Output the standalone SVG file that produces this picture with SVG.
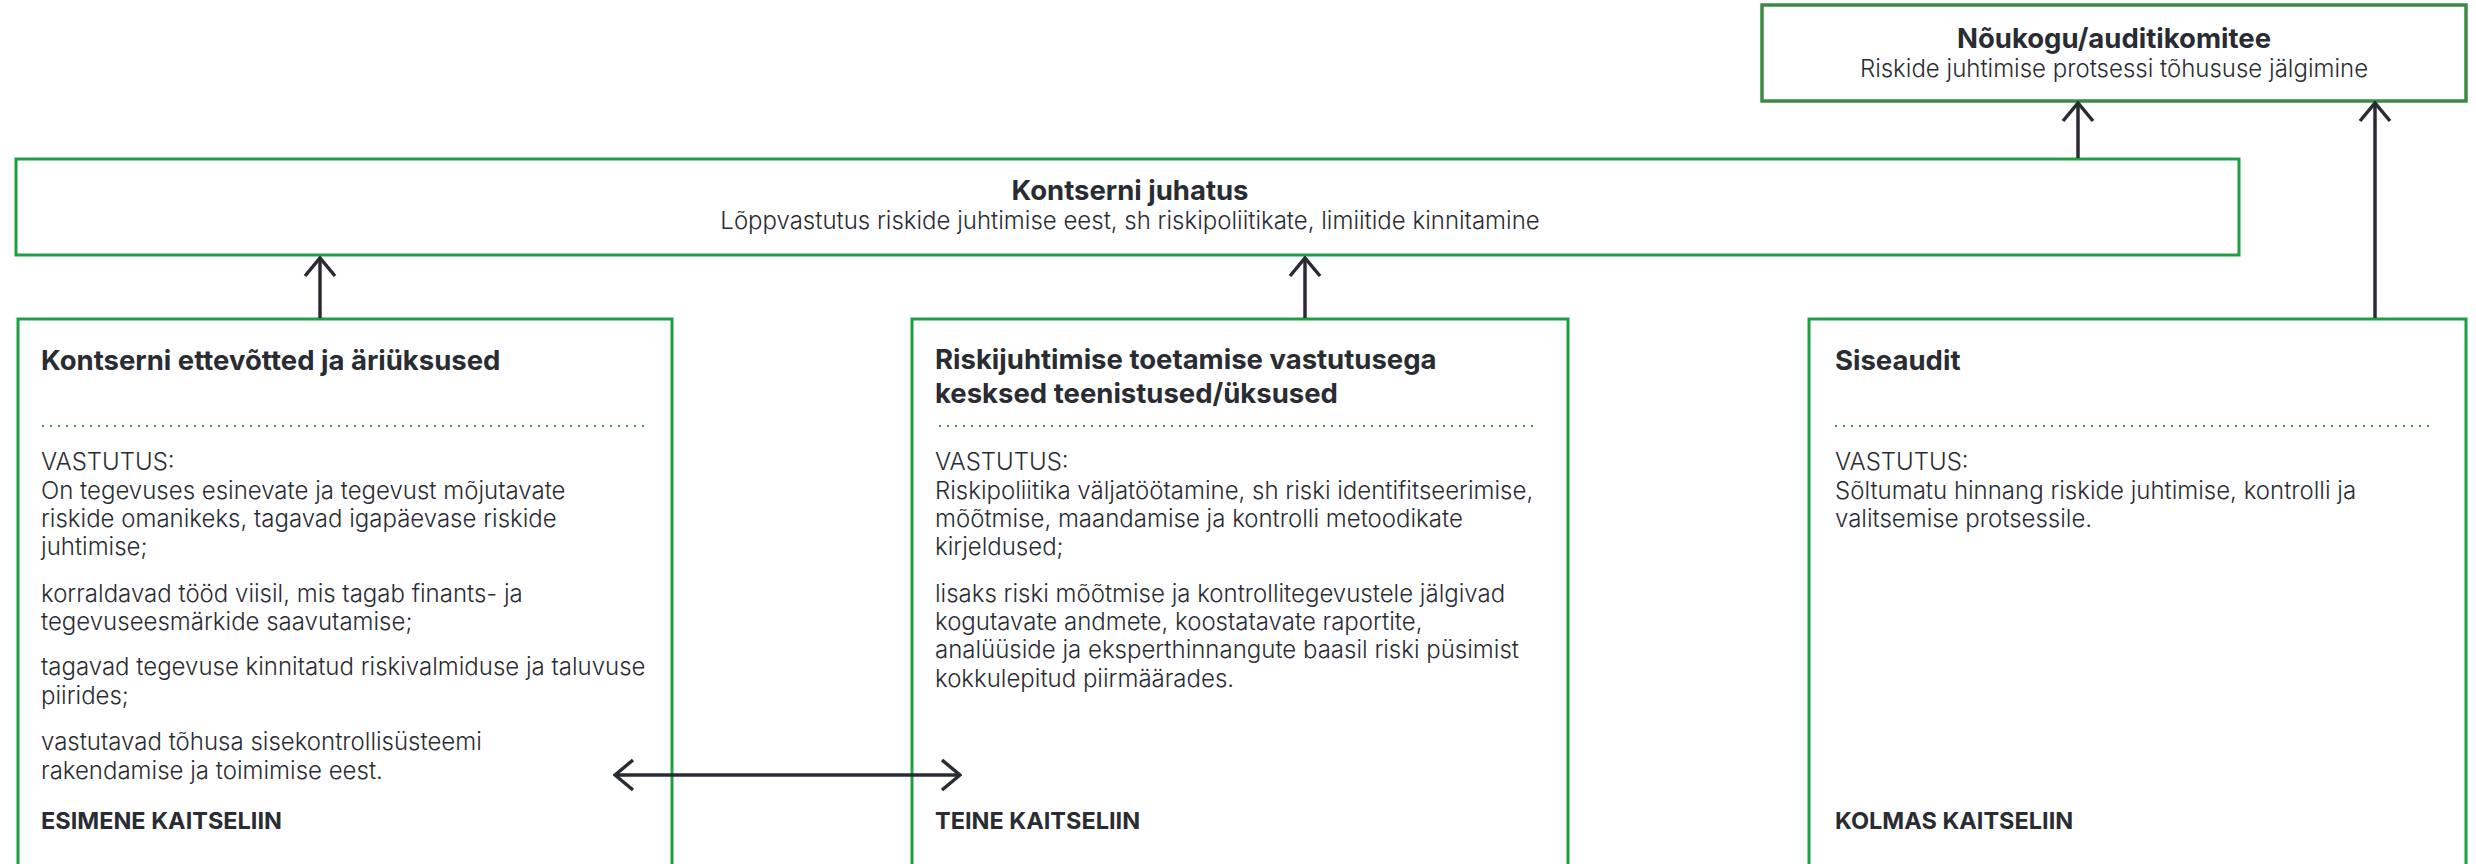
<svg xmlns="http://www.w3.org/2000/svg" width="2476" height="864" viewBox="0 0 2476 864">
<defs>
<style>
.box{fill:#fff;stroke:#1d9f43;stroke-width:3}
.box2{fill:#fff;stroke:#3e8a45;stroke-width:3.5}
.dot{stroke:#2e9b47;stroke-width:2;stroke-dasharray:2 6}
.t{font-family:Inter,"Liberation Sans",sans-serif;fill:#2a2c33}
.h{font-size:27.5px;font-weight:700}
.s{font-size:24px;font-weight:300}
.b{font-size:24px;font-weight:300}
.f{font-size:23.5px;font-weight:700}
.c{stroke:#2a2c33;stroke-width:3.5;fill:none}
</style>
<marker id="ah" viewBox="0 0 22 34" refX="20" refY="17" markerWidth="22" markerHeight="34" markerUnits="userSpaceOnUse" orient="auto-start-reverse">
<path d="M2,2 L20,17 L2,32" fill="none" stroke="#2a2c33" stroke-width="3.5"/>
</marker>
</defs>
<rect width="2476" height="864" fill="#fff"/>

<g id="noukogu">
<rect class="box2" x="1762" y="5" width="704" height="96"/>
<text class="t h" x="2114" y="48" text-anchor="middle">Nõukogu/auditikomitee</text>
<text class="t s" x="2114" y="77" text-anchor="middle">Riskide juhtimise protsessi tõhususe jälgimine</text>
</g>

<g id="juhatus">
<rect class="box" x="16" y="159" width="2223" height="96"/>
<text class="t h" x="1130" y="200" text-anchor="middle">Kontserni juhatus</text>
<text class="t s" x="1130" y="229" text-anchor="middle">Lõppvastutus riskide juhtimise eest, sh riskipoliitikate, limiitide kinnitamine</text>
</g>

<g id="esimene">
<rect class="box" x="18" y="319" width="654" height="570"/>
<text class="t h" x="41" y="370">Kontserni ettevõtted ja äriüksused</text>
<line class="dot" x1="42" y1="426" x2="644" y2="426"/>
<text class="t b"><tspan x="41" y="470">VASTUTUS:</tspan><tspan x="41" y="499">On tegevuses esinevate ja tegevust mõjutavate</tspan><tspan x="41" y="527">riskide omanikeks, tagavad igapäevase riskide</tspan><tspan x="41" y="555">juhtimise;</tspan><tspan x="41" y="602">korraldavad tööd viisil, mis tagab finants- ja</tspan><tspan x="41" y="630">tegevuseesmärkide saavutamise;</tspan><tspan x="41" y="675">tagavad tegevuse kinnitatud riskivalmiduse ja taluvuse</tspan><tspan x="41" y="704">piirides;</tspan><tspan x="41" y="750">vastutavad tõhusa sisekontrollisüsteemi</tspan><tspan x="41" y="779">rakendamise ja toimimise eest.</tspan></text>
<text class="t f" x="41" y="829">ESIMENE KAITSELIIN</text>
</g>

<g id="teine">
<rect class="box" x="912" y="319" width="656" height="570"/>
<text class="t h"><tspan x="935" y="369">Riskijuhtimise toetamise vastutusega</tspan><tspan x="935" y="403">kesksed teenistused/üksused</tspan></text>
<line class="dot" x1="939" y1="426" x2="1539" y2="426"/>
<text class="t b"><tspan x="935" y="470">VASTUTUS:</tspan><tspan x="935" y="499">Riskipoliitika väljatöötamine, sh riski identifitseerimise,</tspan><tspan x="935" y="527">mõõtmise, maandamise ja kontrolli metoodikate</tspan><tspan x="935" y="555">kirjeldused;</tspan><tspan x="935" y="602">lisaks riski mõõtmise ja kontrollitegevustele jälgivad</tspan><tspan x="935" y="630">kogutavate andmete, koostatavate raportite,</tspan><tspan x="935" y="658">analüüside ja eksperthinnangute baasil riski püsimist</tspan><tspan x="935" y="687">kokkulepitud piirmäärades.</tspan></text>
<text class="t f" x="935" y="829">TEINE KAITSELIIN</text>
</g>

<g id="kolmas">
<rect class="box" x="1809" y="319" width="657" height="570"/>
<text class="t h" x="1835" y="370">Siseaudit</text>
<line class="dot" x1="1835" y1="426" x2="2434" y2="426"/>
<text class="t b"><tspan x="1835" y="470">VASTUTUS:</tspan><tspan x="1835" y="499">Sõltumatu hinnang riskide juhtimise, kontrolli ja</tspan><tspan x="1835" y="527">valitsemise protsessile.</tspan></text>
<text class="t f" x="1835" y="829">KOLMAS KAITSELIIN</text>
</g>

<g id="connectors">
<line class="c" x1="320" y1="318" x2="320" y2="258" marker-end="url(#ah)"/>
<line class="c" x1="1305" y1="318" x2="1305" y2="258" marker-end="url(#ah)"/>
<line class="c" x1="2078" y1="158" x2="2078" y2="103" marker-end="url(#ah)"/>
<line class="c" x1="2375" y1="318" x2="2375" y2="103" marker-end="url(#ah)"/>
<line class="c" x1="615" y1="775" x2="960" y2="775" marker-start="url(#ah)" marker-end="url(#ah)"/>
</g>
</svg>
